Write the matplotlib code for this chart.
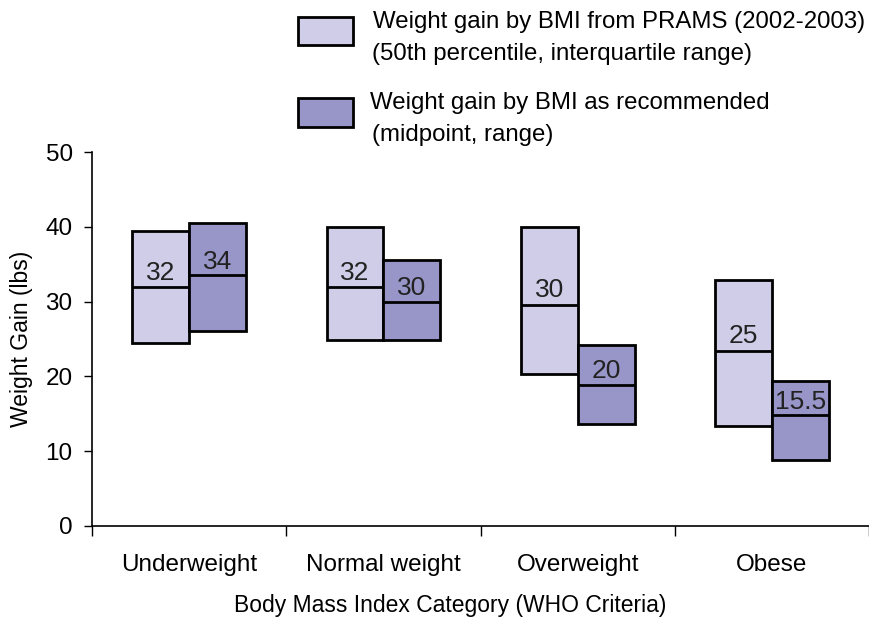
import matplotlib.pyplot as plt
import matplotlib.patches as mpatches

plt.rcParams['font.family'] = ['Liberation Sans', 'DejaVu Sans']

# data
categories = ['Underweight', 'Normal weight', 'Overweight', 'Obese']
prams_low = [24.4, 24.8, 20.3, 13.4]
prams_mid = [31.9, 31.9, 29.6, 23.4]
prams_high = [39.5, 40.0, 40.0, 32.9]
prams_labels = ['32', '32', '30', '25']
rec_low = [26.0, 24.8, 13.6, 8.8]
rec_mid = [33.5, 30.0, 18.9, 14.8]
rec_high = [40.5, 35.5, 24.2, 19.4]
rec_labels = ['34', '30', '20', '15.5']

light = '#cfcde8'
dark = '#9896c9'
w = 0.293

fig = plt.figure(figsize=(8.69, 6.18), dpi=100)
ax = fig.add_axes([0.106, 0.149, 0.894, 0.605])

x = range(len(categories))
for i in x:
    # PRAMS box (left of centre)
    ax.bar(i - w, prams_high[i] - prams_low[i], bottom=prams_low[i], width=w,
           align='edge', color=light, edgecolor='black', linewidth=2)
    ax.hlines(prams_mid[i], i - w, i, color='black', linewidth=2)
    ax.text(i - w / 2, prams_mid[i] + 1.0, prams_labels[i], ha='center',
            va='baseline', fontsize=19, color='#222222')
    # recommended box (right of centre)
    ax.bar(i, rec_high[i] - rec_low[i], bottom=rec_low[i], width=w,
           align='edge', color=dark, edgecolor='black', linewidth=2)
    ax.hlines(rec_mid[i], i, i + w, color='black', linewidth=2)
    ax.text(i + w / 2, rec_mid[i] + 0.9, rec_labels[i], ha='center',
            va='baseline', fontsize=19, color='#222222')

ax.set_xlim(-0.5, 3.5)
ax.set_ylim(0, 50)
ax.set_yticks([0, 10, 20, 30, 40, 50])
ax.set_xticks([-0.5, 0.5, 1.5, 2.5, 3.5])
ax.set_xticklabels([])
ax.set_xticks(list(x), minor=True)
ax.set_xticklabels(categories, minor=True)
ax.tick_params(axis='x', which='major', length=7, width=1, direction='out')
ax.tick_params(axis='x', which='minor', length=0, pad=20, labelsize=17.5)
ax.tick_params(axis='y', length=6, width=1, pad=8, labelsize=17.5)
for s in ['top', 'right']:
    ax.spines[s].set_visible(False)
ax.spines['left'].set_linewidth(1.2)
ax.spines['bottom'].set_linewidth(1.2)

ax.set_ylabel('Weight Gain (lbs)', fontsize=16.5, labelpad=9)
ax.set_xlabel('Body Mass Index Category (WHO Criteria)', fontsize=16.5)
ax.xaxis.set_label_coords(0.461, -0.183)

# legend drawn by hand to match the layout
fig.patches.append(mpatches.Rectangle((298 / 869, 1 - 45 / 618), 55 / 869, 28 / 618,
                                      transform=fig.transFigure, facecolor=light,
                                      edgecolor='black', linewidth=2))
fig.patches.append(mpatches.Rectangle((298 / 869, 1 - 127 / 618), 55 / 869, 29 / 618,
                                      transform=fig.transFigure, facecolor=dark,
                                      edgecolor='black', linewidth=2))
fig.text(373 / 869, 1 - 22 / 618, 'Weight gain by BMI from PRAMS (2002-2003)',
         fontsize=17.3, va='center')
fig.text(372 / 869, 1 - 54 / 618, '(50th percentile, interquartile range)',
         fontsize=17.3, va='center')
fig.text(370 / 869, 1 - 103 / 618, 'Weight gain by BMI as recommended',
         fontsize=17.3, va='center')
fig.text(372 / 869, 1 - 135 / 618, '(midpoint, range)', fontsize=17.3, va='center')

fig.savefig('out.png', dpi=100)
